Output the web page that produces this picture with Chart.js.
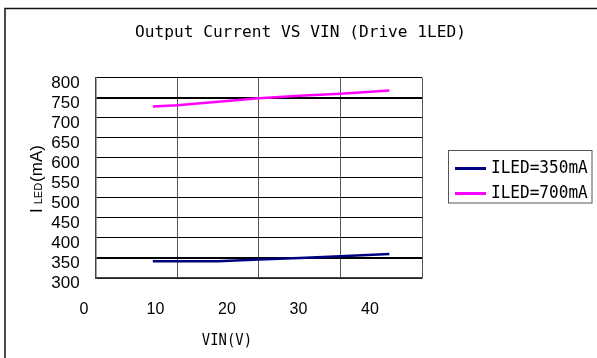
<!DOCTYPE html>
<html>
<head>
<meta charset="utf-8">
<script src="https://cdn.jsdelivr.net/npm/chart.js@4"></script>
<style>
  html, body { margin: 0; padding: 0; background: #fff; }
  #wrap { width: 597px; height: 358px; position: relative; }
</style>
</head>
<body>
<div id="wrap"><canvas id="c"></canvas></div>
<script>
// values
var vin    = [7, 10, 15, 20, 25, 30, 36];
var i350   = [342, 342, 342, 346, 350, 354, 360];
var i700   = [728, 731, 740, 749, 755, 760, 768];
var xTicks = [0, 10, 20, 30, 40];
var names  = ['ILED=350mA', 'ILED=700mA'];
var cols   = ['#000080', '#ff00ff'];

function pts(ys) {
  return vin.map(function(v, i){ return { x: v, y: ys[i] }; });
}

// narrow text: draw with a horizontal squeeze
function squeezed(c, txt, x, y, sx, align) {
  c.save();
  c.translate(x, y);
  c.scale(sx, 1);
  c.textAlign = align || 'center';
  c.fillText(txt, 0, 0);
  c.restore();
}

// frame, title, axis titles and legend box
var decor = {
  id: 'decor',
  beforeDraw: function(chart) {
    var c = chart.ctx;
    c.save();
    c.fillStyle = '#fff';
    c.fillRect(0, 0, chart.width, chart.height);
    c.strokeStyle = '#111';
    c.lineWidth = 1.5;
    c.strokeRect(5, 8.5, chart.width + 10, chart.height + 10);
    c.restore();
  },
  afterDraw: function(chart) {
    var c = chart.ctx;
    c.save();
    c.fillStyle = '#000';
    c.textBaseline = 'middle';
    c.font = '16.5px "DejaVu Sans Mono"';
    squeezed(c, 'Output Current VS VIN (Drive 1LED)', 300.5, 33, 0.98);

    // x title sits under the "20" label
    var x2 = chart.scales.x2;
    c.font = '16px "DejaVu Sans Mono"';
    squeezed(c, 'VIN(V)', x2.getPixelForValue(20), 341, 0.87);

    // y title: I LED (mA), LED smaller
    c.save();
    c.translate(42, 213);
    c.rotate(-Math.PI / 2);
    c.textAlign = 'left';
    c.textBaseline = 'alphabetic';
    var px = 0;
    c.font = '17px "Liberation Sans"';
    c.fillText('I', px, 0); px += c.measureText('I').width + 4;
    c.font = '11px "Liberation Sans"';
    c.fillText('LED', px, 0); px += c.measureText('LED').width + 1;
    c.font = '17px "Liberation Sans"';
    c.fillText('(mA)', px, 0);
    c.restore();

    // legend
    var bx = 448.5, by = 150.5, bw = 143.5, bh = 52.5;
    c.save();
    c.beginPath();
    c.rect(bx, by, bw, bh);
    c.clip();
    c.fillStyle = '#fff';
    c.fillRect(bx, by, bw, bh);
    chart.data.datasets.forEach(function(ds, i) {
      var ly = 168.5 + i * 25;
      c.strokeStyle = ds.borderColor;
      c.lineWidth = 3;
      c.beginPath();
      c.moveTo(455, ly);
      c.lineTo(486, ly);
      c.stroke();
      c.fillStyle = '#000';
      c.font = '17px "DejaVu Sans Mono"';
      c.textBaseline = 'middle';
      squeezed(c, ds.label, 491, ly + 0.5, 0.945, 'left');
    });
    c.restore();
    c.strokeStyle = '#555';
    c.lineWidth = 1;
    c.strokeRect(bx, by, bw, bh);
    c.restore();
  }
};

new Chart(document.getElementById('c'), {
  type: 'line',
  data: {
    datasets: [
      { label: names[0], data: pts(i350), borderColor: cols[0], borderWidth: 2.5,
        pointRadius: 0, tension: 0, fill: false },
      { label: names[1], data: pts(i700), borderColor: cols[1], borderWidth: 2.5,
        pointRadius: 0, tension: 0, fill: false }
    ]
  },
  options: {
    responsive: true, maintainAspectRatio: false, animation: false,
    layout: { padding: { top: 77.7, right: 175, bottom: 0, left: 0 } },
    plugins: { legend: { display: false }, title: { display: false }, tooltip: { enabled: false } },
    scales: {
      x: {
        type: 'linear', position: 'bottom', min: 0, max: 40,
        ticks: { display: false, stepSize: 10 },
        grid: { color: '#555', lineWidth: 1, drawTicks: false },
        border: { color: '#444', width: 1.5 },
        afterFit: function(s) { s.height = 0; }
      },
      x2: {
        type: 'linear', position: 'bottom', min: 1.64, max: 47.28,
        grid: { display: false, drawTicks: false },
        border: { display: false },
        ticks: { autoSkip: false, padding: 22, color: '#000',
                 font: { family: 'Liberation Sans', size: 16 } },
        afterBuildTicks: function(s) {
          s.ticks = xTicks.map(function(v){ return { value: v }; });
        },
        afterFit: function(s) { s.height = 80; }
      },
      y: {
        min: 300, max: 800,
        ticks: { stepSize: 50, autoSkip: false, padding: 16, labelOffset: 5.5, color: '#000',
                 font: { family: 'Liberation Sans', size: 17 } },
        grid: { color: '#000', drawTicks: false,
                lineWidth: function(ctx) {
                  var v = ctx.tick && ctx.tick.value;
                  return (v === 750 || v === 350) ? 2 : 1;
                } },
        border: { color: '#444', width: 1.5 },
        afterFit: function(s) { s.width = 95.7; }
      }
    }
  },
  plugins: [decor]
});
</script>
</body>
</html>
